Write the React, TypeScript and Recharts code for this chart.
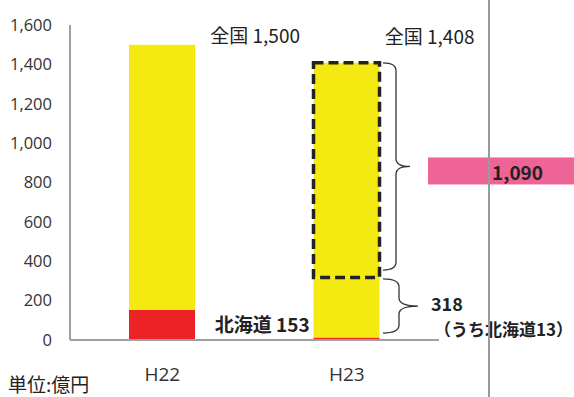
import { BarChart, Bar, XAxis, YAxis, Cell, ReferenceArea, ReferenceDot } from "recharts";

const categories = ["H22", "H23"];
const hokkaido = [153, 13];
const otherRegions = [1347, 305];
const underReview = [0, 1090];
const yTicks = [0, 200, 400, 600, 800, 1000, 1200, 1400, 1600];

const totals = categories.map((_, i) => hokkaido[i] + otherRegions[i] + underReview[i]);
const data = categories.map((name, i) => ({
  name,
  hokkaido: hokkaido[i],
  other: otherRegions[i],
  review: underReview[i],
}));

const fmt = (v: number) => v.toLocaleString("en-US");
const FONT = "'Noto Sans CJK JP', 'Noto Sans', sans-serif";

function bracePath(x0: number, xv: number, xt: number, y0: number, y1: number) {
  const ym = (y0 + y1) / 2;
  const r = 8;
  return `M${x0},${y0} Q${xv},${y0} ${xv},${y0 + r} L${xv},${ym - r} Q${xv},${ym} ${xt},${ym} Q${xv},${ym} ${xv},${ym + r} L${xv},${y1 - r} Q${xv},${y1} ${x0},${y1}`;
}

// brace beside the dashed block + pink callout
function ReviewBrace(props: any) {
  const { x, y, width, height } = props;
  const x0 = x + width - 56;
  const ym = y + height / 2;
  const left = x0 + 45;
  return (
    <g>
      <path d={bracePath(x0, x0 + 13, x0 + 27, y, y + height)} fill="none" stroke="#333" strokeWidth={1.3} />
      <rect x={left} y={ym - 9} width={574 - left} height={27} fill="#EF6496" />
      <text x={left + 64} y={ym + 5} dominantBaseline="central" fontFamily={FONT} fontSize={19} fontWeight="bold" fill="#222">
        {fmt(underReview[1])}
      </text>
    </g>
  );
}

function RemainBrace(props: any) {
  const { x, y, width, height } = props;
  const x0 = x + width - 56;
  const ym = y + height / 2;
  const xt = x0 + 35;
  return (
    <g>
      <path d={bracePath(x0, x0 + 16, xt, y, y + height)} fill="none" stroke="#333" strokeWidth={1.3} />
      <text x={xt + 13} y={ym - 3} dominantBaseline="central" fontFamily={FONT} fontSize={18} fontWeight="bold" fill="#222">
        {fmt(hokkaido[1] + otherRegions[1])}
      </text>
      <text x={xt + 16} y={ym + 22} dominantBaseline="central" fontFamily={FONT} fontSize={17} fontWeight="bold" fill="#222">
        {`（うち北海道${hokkaido[1]}）`}
      </text>
    </g>
  );
}

const textAt = (label: string, dx: number, anchor: string, bold?: boolean) => (p: any) => (
  <text
    x={p.cx + dx}
    y={p.cy}
    textAnchor={anchor}
    dominantBaseline="central"
    fontFamily={FONT}
    fontSize={19}
    fontWeight={bold ? "bold" : "normal"}
    fill="#222"
  >
    {label}
  </text>
);

export default function App() {
  return (
    <div style={{ position: "fixed", left: 0, top: 0, width: 574, height: 397, background: "#fff" }}>
      <BarChart width={574} height={397} data={data} margin={{ top: 25, right: 135, bottom: 27, left: 0 }} barSize={66}>
        <XAxis
          dataKey="name"
          height={30}
          axisLine={{ stroke: "#A0A0A0", strokeWidth: 2 }}
          tickLine={false}
          tickMargin={22}
          tick={{ fontSize: 19, fill: "#333", fontFamily: "'Open Sans', sans-serif" }}
        />
        <YAxis
          width={70}
          domain={[0, 1600]}
          ticks={yTicks}
          interval={0}
          axisLine={{ stroke: "#A0A0A0", strokeWidth: 2 }}
          tickLine={false}
          tickMargin={12}
          tickFormatter={fmt}
          tick={{ fontSize: 16.5, fill: "#333", fontFamily: "'Open Sans', sans-serif" }}
        />
        <Bar dataKey="hokkaido" stackId="a" fill="#EC2227" isAnimationActive={false} />
        <Bar dataKey="other" stackId="a" fill="#F5E912" isAnimationActive={false} />
        <Bar
          dataKey="review"
          stackId="a"
          fill="#F5E912"
          stroke="#222"
          strokeWidth={3.5}
          strokeDasharray="10 5"
          isAnimationActive={false}
        >
          {underReview.map((v, i) => (
            <Cell key={i} stroke={v > 0 ? "#222" : "none"} />
          ))}
        </Bar>
        <ReferenceArea y1={355} y2={totals[1]} ifOverflow="visible" shape={ReviewBrace} />
        <ReferenceArea y1={35} y2={310} ifOverflow="visible" shape={RemainBrace} />
        <ReferenceDot x="H22" y={1552} r={0} ifOverflow="visible" shape={textAt(`全国 ${fmt(totals[0])}`, 48, "start")} />
        <ReferenceDot x="H23" y={1545} r={0} ifOverflow="visible" shape={textAt(`全国 ${fmt(totals[1])}`, 38, "start")} />
        <ReferenceDot x="H23" y={84} r={0} ifOverflow="visible" shape={textAt(`北海道 ${hokkaido[0]}`, -37, "end", true)} />
      </BarChart>
      <div style={{ position: "absolute", left: 488, top: 0, width: 2, height: 397, background: "#9A9A9A" }} />
      <div style={{ position: "absolute", left: 8, top: 373, fontFamily: FONT, fontSize: 19, lineHeight: "22px", color: "#222" }}>
        単位:億円
      </div>
    </div>
  );
}
